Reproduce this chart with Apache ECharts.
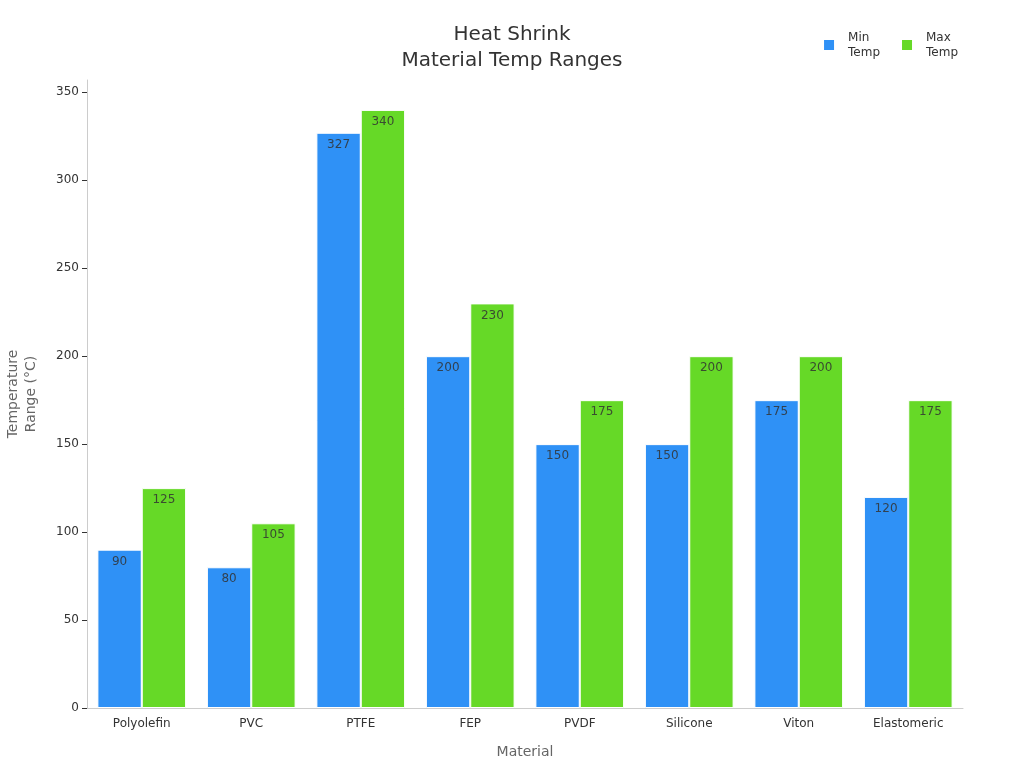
<!DOCTYPE html>
<html><head><meta charset="utf-8">
<script src="https://cdn.jsdelivr.net/npm/echarts@6/dist/echarts.min.js"></script>
<style>html,body{margin:0;padding:0;background:#fff}#c{width:1024px;height:768px}</style>
</head><body><div id="c"></div>
<script>
const categories = ['Polyolefin','PVC','PTFE','FEP','PVDF','Silicone','Viton','Elastomeric'];
const minTemp = [90,80,327,200,150,150,175,120];
const maxTemp = [125,105,340,230,175,200,200,175];
const seriesNames = ['Min\nTemp','Max\nTemp'];

const chart = echarts.init(document.getElementById('c'));
const labelCfg = {show:true, position:'insideTop', color:'rgba(51,51,51,0.85)', fontSize:12, fontFamily:'DejaVu Sans', distance:6};
chart.setOption({
  animation:false,
  textStyle:{fontFamily:'DejaVu Sans'},
  title:{text:'Heat Shrink\nMaterial Temp Ranges', left:'center', top:17,
    textStyle:{fontSize:20, fontWeight:'normal', color:'#333', lineHeight:26, fontFamily:'DejaVu Sans'}},
  legend:{right:61, top:25, itemWidth:12, itemHeight:12, icon:'rect', itemGap:20,
    textStyle:{fontSize:12, color:'#333', lineHeight:15, padding:[0,0,0,8], fontFamily:'DejaVu Sans'}},
  grid:{left:87, right:61, top:80, bottom:60, outerBoundsMode:'none', containLabel:false},
  xAxis:{type:'category', data:categories, name:'Material', nameLocation:'middle', nameGap:37,
    nameTextStyle:{fontSize:14, color:'#666'},
    axisLine:{lineStyle:{color:'#ccc'}}, axisTick:{alignWithLabel:true, lineStyle:{color:'#333'}},
    axisLabel:{color:'#333', fontSize:12, margin:10}},
  yAxis:{type:'value', min:0, max:357, interval:50, name:'Temperature\nRange (°C)', nameLocation:'middle', nameGap:47,
    nameTextStyle:{fontSize:14, color:'#666', lineHeight:18},
    axisLine:{show:true, lineStyle:{color:'#ccc'}}, axisTick:{show:true, length:5, lineStyle:{color:'#333'}},
    splitLine:{show:false},
    axisLabel:{color:'#333', fontSize:12, margin:8, padding:[3,0,0,0], showMaxLabel:false}},
  series:[
    {name:seriesNames[0], type:'bar', data:minTemp, barGap:'0%', barCategoryGap:'19%',
     itemStyle:{color:'#2F91F6', borderColor:'#fff', borderWidth:1}, label:labelCfg},
    {name:seriesNames[1], type:'bar', data:maxTemp,
     itemStyle:{color:'#66D927', borderColor:'#fff', borderWidth:1}, label:labelCfg}
  ]
});
</script></body></html>
